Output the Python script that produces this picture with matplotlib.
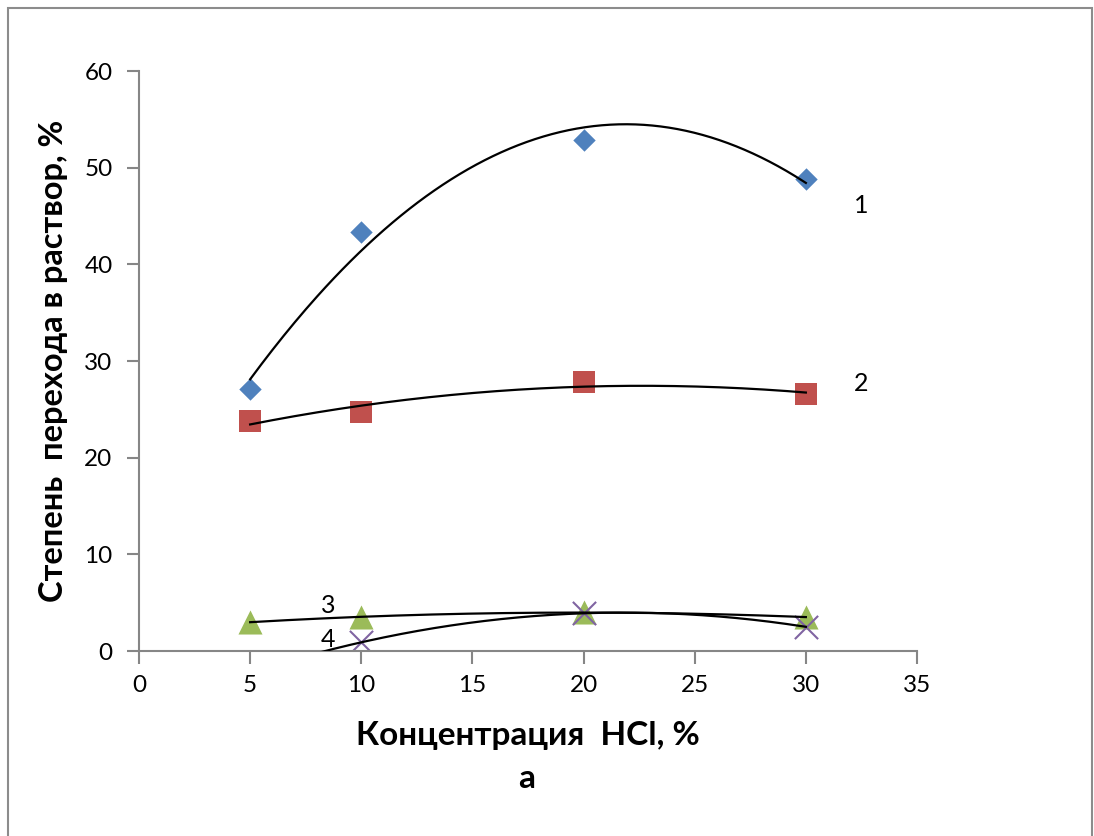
import numpy as np
import matplotlib
matplotlib.use("Agg")
import matplotlib.pyplot as plt
from matplotlib.patches import Rectangle

plt.rcParams['font.family'] = ['Lato', 'DejaVu Sans']

# Concentration of HCl, %
conc = [5, 10, 20, 30]
# Degree of transfer into solution, %
s1 = [27.1, 43.3, 52.9, 48.8]
s2 = [23.8, 24.7, 27.8, 26.6]
s3 = [3.0, 3.5, 4.0, 3.5]
conc4 = [10, 20, 30]
s4 = [0.9, 3.9, 2.5]

fig = plt.figure(figsize=(10.94, 8.36), dpi=100)
fig.patches.append(Rectangle((8 / 1094, -0.01), 1084 / 1094, 1.0 - 8 / 836 + 0.01,
                             transform=fig.transFigure, fill=False,
                             edgecolor='#8c8c8c', linewidth=1.5))
ax = fig.add_axes([139 / 1094, 1 - 651 / 836, (917 - 139) / 1094, (651 - 71) / 836])

axis_col = '#868686'

def trend(x, y, x0, x1):
    c = np.polyfit(x, y, 2)
    xs = np.linspace(x0, x1, 200)
    ax.plot(xs, np.polyval(c, xs), color='black', lw=1.6, zorder=3)

ax.scatter(conc, s1, marker='D', s=130, color='#4F81BD', zorder=2, linewidths=0)
ax.scatter(conc, s2, marker='s', s=260, color='#C0504D', zorder=2, linewidths=0)
ax.scatter(conc, s3, marker='^', s=300, color='#9BBB59', zorder=2, linewidths=0)
ax.scatter(conc4, s4, marker='x', s=280, color='#8064A2', zorder=2, linewidths=1.5)

trend(conc, s1, 5, 30)
trend(conc, s2, 5, 30)
trend(conc, s3, 5, 30)
trend(conc4, s4, 5, 30)

ax.set_xlim(0, 35)
ax.set_ylim(0, 60)
ax.set_xticks(range(0, 36, 5))
ax.set_yticks(range(0, 61, 10))
for sp in ['top', 'right']:
    ax.spines[sp].set_visible(False)
for sp in ['left', 'bottom']:
    ax.spines[sp].set_color(axis_col)
    ax.spines[sp].set_linewidth(1.5)
ax.tick_params(axis='both', colors=axis_col, length=9, width=1.5, labelsize=17.5,
               labelcolor='black', direction='out')
ax.tick_params(axis='x', pad=8)
ax.tick_params(axis='y', pad=10)

ax.set_ylabel('Степень  перехода в раствор, %', fontsize=23.5, fontweight='bold', labelpad=12)
ax.set_xlabel('Концентрация  HCl, %', fontsize=24, fontweight='bold', labelpad=18)
fig.text(527 / 1094, 1 - 778 / 836, 'а', fontsize=24, fontweight='bold', ha='center', va='center')

for txt, x, y in [('1', 32.5, 46.1), ('2', 32.5, 27.7), ('3', 8.5, 4.7), ('4', 8.5, 1.2)]:
    ax.text(x, y, txt, fontsize=18, ha='center', va='center', clip_on=False)

fig.savefig('out.png', dpi=100)
